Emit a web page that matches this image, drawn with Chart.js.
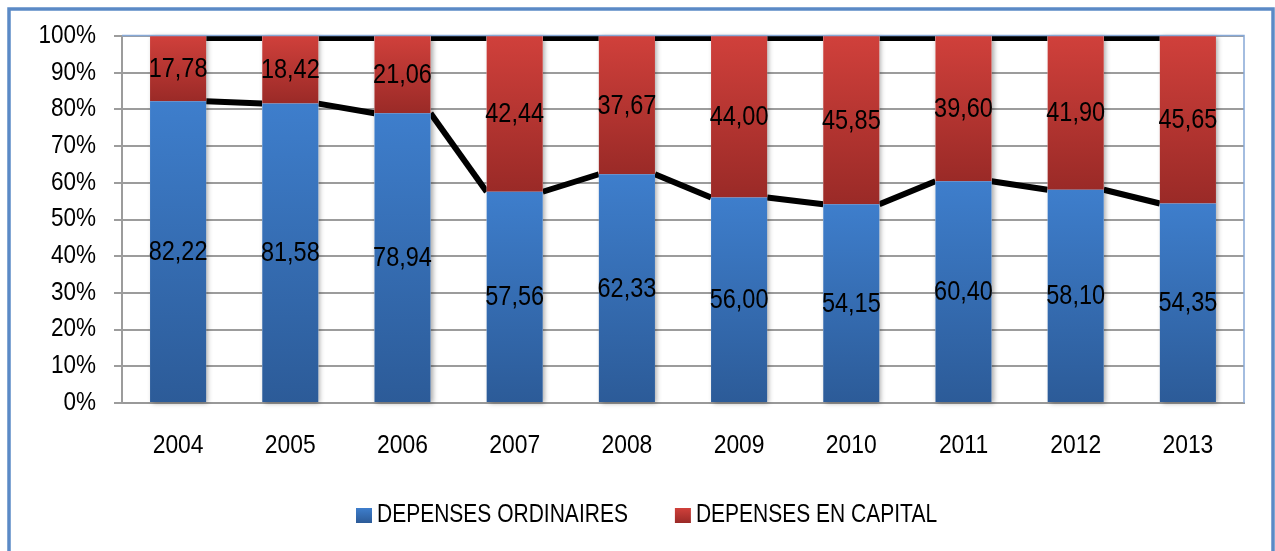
<!DOCTYPE html>
<html>
<head>
<meta charset="utf-8">
<script src="https://cdn.jsdelivr.net/npm/chart.js@4.4.1/dist/chart.umd.min.js"></script>
<style>
  html, body { margin: 0; padding: 0; background: #fff; }
  #wrap { width: 1275px; height: 551px; position: relative; }
</style>
</head>
<body>
<div id="wrap"><canvas id="myChart" width="1275" height="551"></canvas></div>
<script>
var annees = ['2004', '2005', '2006', '2007', '2008', '2009', '2010', '2011', '2012', '2013'];
var ordinaires = [82.22, 81.58, 78.94, 57.56, 62.33, 56.00, 54.15, 60.40, 58.10, 54.35];
var capital = [17.78, 18.42, 21.06, 42.44, 37.67, 44.00, 45.85, 39.60, 41.90, 45.65];
var pourcentages = [0, 10, 20, 30, 40, 50, 60, 70, 80, 90, 100];

var bleu = ['#3e7ecc', '#2c5b98'];
var rouge = ['#d0403b', '#9a2a27'];
var police = '"Liberation Sans", Arial, sans-serif';

function fmt(v) {
    return v.toFixed(2).replace('.', ',');
}

// texte un peu resserre horizontalement
function texte(ctx, t, x, y, taille, sx, align) {
    ctx.save();
    ctx.font = taille + 'px ' + police;
    ctx.textAlign = align;
    ctx.textBaseline = 'middle';
    ctx.fillStyle = '#000';
    ctx.translate(x, y);
    ctx.scale(sx, 1);
    ctx.fillText(t, 0, 0);
    var w = ctx.measureText(t).width * sx;
    ctx.restore();
    return w;
}

// degrade vertical sur chaque segment de barre
function degrade(couleurs) {
    return function(c) {
        var chart = c.chart;
        if (!chart.chartArea || c.type !== 'data') return couleurs[0];
        var y = chart.scales.y;
        var bas = c.datasetIndex === 0 ? 0 : ordinaires[c.dataIndex];
        var haut = c.datasetIndex === 0 ? ordinaires[c.dataIndex] : 100;
        var g = chart.ctx.createLinearGradient(0, y.getPixelForValue(haut), 0, y.getPixelForValue(bas));
        g.addColorStop(0, couleurs[0]);
        g.addColorStop(1, couleurs[1]);
        return g;
    };
}

var seriesLines = {
    id: 'seriesLines',
    beforeDraw: function(chart) {
        var ctx = chart.ctx;
        ctx.save();
        ctx.fillStyle = '#fff';
        ctx.fillRect(0, 0, chart.width, chart.height);
        ctx.strokeStyle = '#5b8ac6';
        ctx.lineWidth = 3.5;
        ctx.strokeRect(9, 9, 1264, 600);
        ctx.restore();
    },
    beforeDatasetsDraw: function(chart) {
        var ctx = chart.ctx;
        var a = chart.chartArea;
        var meta0 = chart.getDatasetMeta(0);
        var meta1 = chart.getDatasetMeta(1);
        // lignes de serie entre les barres
        ctx.save();
        ctx.beginPath();
        ctx.rect(a.left, a.top, a.right - a.left, a.bottom - a.top);
        ctx.clip();
        ctx.strokeStyle = '#000';
        [[meta0, 6], [meta1, 10]].forEach(function(m) {
            var meta = m[0];
            ctx.lineWidth = m[1];
            for (var i = 0; i < meta.data.length - 1; i++) {
                var b1 = meta.data[i], b2 = meta.data[i + 1];
                ctx.beginPath();
                ctx.moveTo(b1.x + b1.width / 2, b1.y);
                ctx.lineTo(b2.x - b2.width / 2, b2.y);
                ctx.stroke();
            }
        });
        ctx.restore();
        // ombre legere sous les barres
        ctx.save();
        ctx.shadowColor = 'rgba(0,0,0,0.35)';
        ctx.shadowBlur = 5;
        ctx.shadowOffsetX = 2;
        ctx.shadowOffsetY = 1;
        ctx.fillStyle = '#fff';
        meta0.data.forEach(function(b, i) {
            var t = meta1.data[i];
            ctx.fillRect(b.x - b.width / 2, t.y, b.width, b.base - t.y);
        });
        ctx.restore();
    },
    afterDatasetsDraw: function(chart) {
        var ctx = chart.ctx;
        var a = chart.chartArea;
        var x = chart.scales.x, y = chart.scales.y;
        ctx.save();
        ctx.strokeStyle = '#86a8d6';
        ctx.lineWidth = 1.5;
        ctx.beginPath();
        ctx.moveTo(a.left, a.top - 0.5);
        ctx.lineTo(a.right, a.top - 0.5);
        ctx.lineTo(a.right, a.bottom);
        ctx.stroke();
        ctx.restore();

        // graduations
        pourcentages.forEach(function(v) {
            texte(ctx, v + '%', a.left - 26, y.getPixelForValue(v), 25, 0.9, 'right');
        });
        annees.forEach(function(an, i) {
            texte(ctx, an, x.getPixelForValue(i), a.bottom + 43, 26, 0.88, 'center');
        });

        // etiquettes des valeurs
        chart.data.datasets.forEach(function(ds, d) {
            chart.getDatasetMeta(d).data.forEach(function(b, i) {
                var c = b.getCenterPoint();
                texte(ctx, fmt(ds.data[i]), c.x, c.y + 1, 27, 0.87, 'center');
            });
        });

        // legende
        var lx = 356, ly = 515;
        chart.data.datasets.forEach(function(ds, d) {
            var col = d === 0 ? bleu : rouge;
            var g = ctx.createLinearGradient(0, ly - 7, 0, ly + 8);
            g.addColorStop(0, col[0]);
            g.addColorStop(1, col[1]);
            ctx.fillStyle = g;
            ctx.fillRect(lx, ly - 7, 16, 15);
            var w = texte(ctx, ds.label, lx + 21, ly, 25, 0.84, 'left');
            lx += 21 + w + 47;
        });
    }
};

var ctx = document.getElementById('myChart');
var myChart = new Chart(ctx, {
    type: 'bar',
    data: {
        labels: annees,
        datasets: [{
            label: 'DEPENSES ORDINAIRES',
            data: ordinaires,
            backgroundColor: degrade(bleu),
            borderWidth: 0
        }, {
            label: 'DEPENSES EN CAPITAL',
            data: capital,
            backgroundColor: degrade(rouge),
            borderWidth: 0
        }]
    },
    options: {
        responsive: false,
        animation: false,
        layout: {
            padding: { left: 0, right: 31, top: 36, bottom: 0 }
        },
        datasets: {
            bar: {
                categoryPercentage: 1,
                barPercentage: 0.5
            }
        },
        scales: {
            x: {
                stacked: true,
                grid: { display: false },
                border: { display: true, color: '#999', width: 2 },
                ticks: { display: false },
                afterFit: function(s) { s.height = 148; }
            },
            y: {
                stacked: true,
                min: 0,
                max: 100,
                afterBuildTicks: function(s) {
                    s.ticks = pourcentages.map(function(v) { return { value: v }; });
                },
                grid: { color: '#9c9c9c', lineWidth: 2, tickLength: 8 },
                border: { display: true, color: '#9c9c9c', width: 2 },
                ticks: { display: false },
                afterFit: function(s) { s.width = 122; }
            }
        },
        plugins: {
            legend: { display: false },
            tooltip: { enabled: false }
        }
    },
    plugins: [seriesLines]
});
</script>
</body>
</html>
